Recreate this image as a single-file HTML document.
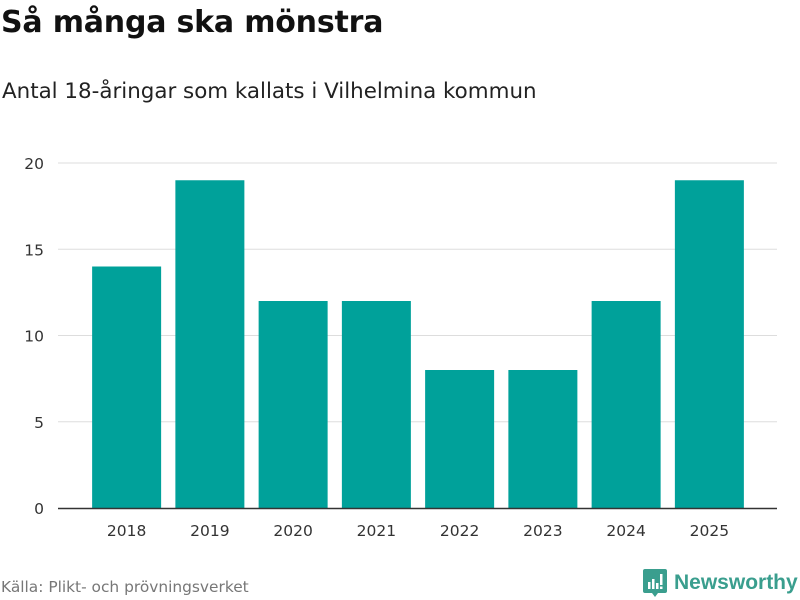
<!DOCTYPE html>
<html><head><meta charset="utf-8"><style>
body{margin:0;width:800px;height:600px;background:#fff;font-family:"DejaVu Sans","Liberation Sans",sans-serif;overflow:hidden;position:relative}
#title{position:absolute;left:1px;top:5px;font-size:30px;font-weight:bold;color:#111;letter-spacing:-0.2px}
#sub{position:absolute;left:2px;top:79px;font-size:21.4px;color:#222}
#src{position:absolute;left:1px;top:578px;font-size:15.4px;color:#777}
#logo{position:absolute;left:643px;top:569px;display:flex;align-items:center}
#logo span{font-weight:bold;color:#3a9e8e;margin-left:7px;font-family:"Liberation Sans",sans-serif;font-size:21px}
</style></head><body>
<div id="title">Så många ska mönstra</div>
<div id="sub">Antal 18-åringar som kallats i Vilhelmina kommun</div>
<svg id="chart" width="800" height="600" style="position:absolute;left:0;top:0"></svg>
<div id="src">Källa: Plikt- och prövningsverket</div>
<div id="logo">
<svg width="24" height="28" viewBox="0 0 24 28"><path d="M2 0h20a2 2 0 0 1 2 2v20a2 2 0 0 1-2 2h-7l-3 4-3-4H2a2 2 0 0 1-2-2V2a2 2 0 0 1 2-2z" fill="#3a9e8e"/><rect x="5" y="13" width="2.5" height="7" fill="#fff"/><rect x="9" y="10" width="2.5" height="10" fill="#fff"/><rect x="13" y="14" width="2.5" height="6" fill="#fff"/><rect x="17" y="5" width="2.5" height="11" fill="#fff"/><rect x="17" y="17.5" width="2.5" height="2.5" fill="#fff"/></svg>
<span>Newsworthy</span></div>
<script>
const categories=["2018","2019","2020","2021","2022","2023","2024","2025"];
const values=[14,19,12,12,8,8,12,19];
const yTicks=[0,5,10,15,20];
const svg=document.getElementById('chart');
const NS="http://www.w3.org/2000/svg";
const x0=85,x1=751,y0=508,yTop=163,yMax=20;
const band=(x1-x0)/categories.length,barW=69;
const y=v=>y0-(v/yMax)*(y0-yTop);
const xc=i=>x0+band*(i+0.5);
function mk(t,a){const e=document.createElementNS(NS,t);for(const k in a)e.setAttribute(k,a[k]);svg.appendChild(e);return e;}
yTicks.forEach(t=>{
 if(t>0){const l=mk('line',{x1:58,x2:777,y1:y(t),y2:y(t),stroke:'#ddd','stroke-width':1});
 
 }
 const tx=mk('text',{x:44,y:y(t)+6,'text-anchor':'end','font-size':15.5,fill:'#333'});tx.textContent=t;
 
 
});
values.forEach((v,i)=>{
 const r=mk('rect',{x:xc(i)-barW/2,y:y(v),width:barW,height:y0-y(v),fill:'#00a19a'});
 
 
 const tx=mk('text',{x:xc(i),y:536,'text-anchor':'middle','font-size':15.5,fill:'#333'});tx.textContent=categories[i];
 
 
});
const ax=mk('line',{x1:58,x2:777,y1:y0+0.5,y2:y0+0.5,stroke:'#333','stroke-width':1.5});


</script>
</body></html>
